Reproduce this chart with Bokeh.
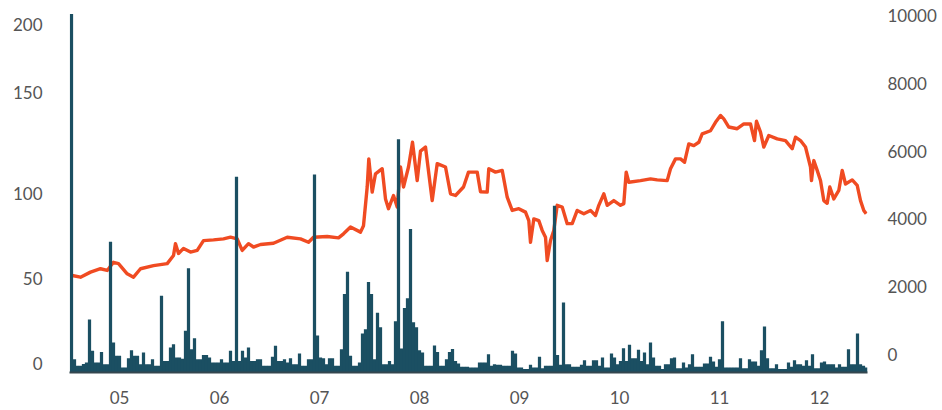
from bokeh.plotting import figure
from bokeh.models import Range1d, LinearAxis, FixedTicker
from bokeh.embed import file_html
from bokeh.resources import INLINE

# ---- data ----
YEAR_TICKS = [2005, 2006, 2007, 2008, 2009, 2010, 2011, 2012]
YEAR_LABELS = ["05", "06", "07", "08", "09", "10", "11", "12"]

# left axis (volume) tick labels and where they sit
LEFT_TICK_LABELS = ["0", "50", "100", "150", "200"]
LEFT_TICK_POS = [5.3, 55, 105, 164, 204]
RIGHT_TICKS = [0, 2000, 4000, 6000, 8000, 10000]

# price line (right axis)
LINE_YEAR = [2004.527, 2004.61, 2004.71, 2004.81, 2004.877, 2004.94, 2004.99, 2005.077, 2005.14, 2005.21,
             2005.34, 2005.477, 2005.54, 2005.56, 2005.59, 2005.64, 2005.71, 2005.777, 2005.84, 2005.94,
             2006.04, 2006.11, 2006.177, 2006.227, 2006.29, 2006.34, 2006.41, 2006.54, 2006.677, 2006.81,
             2006.89, 2006.94, 2007.077, 2007.19, 2007.24, 2007.31, 2007.41, 2007.44, 2007.477, 2007.493,
             2007.527, 2007.56, 2007.627, 2007.66, 2007.69, 2007.74, 2007.777, 2007.81, 2007.84, 2007.89,
             2007.93, 2007.977, 2008.01, 2008.06, 2008.127, 2008.177, 2008.26, 2008.31, 2008.36, 2008.44,
             2008.49, 2008.577, 2008.61, 2008.677, 2008.693, 2008.76, 2008.827, 2008.877, 2008.927, 2008.993,
             2009.06, 2009.093, 2009.11, 2009.143, 2009.193, 2009.227, 2009.26, 2009.277, 2009.31, 2009.343,
             2009.377, 2009.427, 2009.477, 2009.527, 2009.577, 2009.643, 2009.71, 2009.76, 2009.793, 2009.843,
             2009.877, 2009.943, 2010.01, 2010.043, 2010.067, 2010.093, 2010.21, 2010.31, 2010.377, 2010.477,
             2010.51, 2010.56, 2010.61, 2010.65, 2010.693, 2010.743, 2010.793, 2010.827, 2010.91, 2010.96,
             2011.01, 2011.043, 2011.093, 2011.177, 2011.243, 2011.31, 2011.35, 2011.37, 2011.41, 2011.443,
             2011.493, 2011.577, 2011.66, 2011.727, 2011.76, 2011.81, 2011.86, 2011.91, 2011.92, 2011.943,
             2011.977, 2012.01, 2012.043, 2012.077, 2012.103, 2012.143, 2012.193, 2012.227, 2012.26, 2012.327,
             2012.377, 2012.41, 2012.443, 2012.467]
LINE_VALUE = [2330, 2280, 2430, 2530, 2480, 2720, 2680, 2380, 2280, 2530,
              2620, 2680, 2920, 3270, 2980, 3130, 3020, 3070, 3360, 3380,
              3410, 3460, 3410, 3070, 3270, 3170, 3245, 3280, 3460, 3410,
              3310, 3460, 3480, 3440, 3560, 3760, 3610, 3800, 4940, 5770,
              4790, 5330, 5480, 4590, 4300, 4690, 4350, 5530, 4940, 5530,
              6260, 5130, 6000, 6120, 4540, 5630, 5530, 4740, 4690, 4940,
              5380, 5380, 4800, 4790, 5480, 5380, 5430, 4640, 4250, 4300,
              4200, 3950, 3310, 4000, 3950, 3660, 3460, 2770, 3360, 3660,
              4400, 4350, 3860, 3860, 4250, 4150, 4250, 4100, 4400, 4740,
              4400, 4540, 4400, 4450, 5380, 5080, 5130, 5180, 5150, 5130,
              5480, 5770, 5770, 5670, 6210, 6160, 6260, 6510, 6600, 6850,
              7050, 6950, 6710, 6660, 6800, 6800, 6310, 6880, 6560, 6120,
              6460, 6360, 6310, 6070, 6410, 6310, 6120, 5530, 5130, 5720,
              5430, 5130, 4540, 4460, 4940, 4590, 4840, 5430, 5030, 5150,
              4990, 4540, 4250, 4150]

# volume bars (left axis), one bar every 0.03 year starting 2004.52
BAR_START = 2004.52
BAR_STEP = 0.03
BAR_VOLUME = [210, 7.8, 3.9, 3.9, 5, 5.8, 31, 12.7, 5.8, 5.8,
              12, 4.9, 4.9, 76.6, 17.5, 9.8, 9.8, 2.9, 2.9, 8.4,
              13, 9.8, 9.8, 4.9, 11.7, 4.9, 4.9, 7.8, 3.9, 3.9,
              45, 6.8, 6.8, 14.6, 16.6, 8.8, 8.8, 8, 24.4, 61,
              13.6, 20, 7.8, 7.8, 10.3, 10.3, 8.8, 5.8, 5.8, 5.8,
              7.8, 5.8, 5.8, 12.7, 6.8, 114.6, 6.8, 12.7, 8.8, 14.6,
              6.8, 6.8, 7.8, 7.8, 3.9, 3.9, 3.9, 9.2, 15.6, 6.8,
              6.8, 7.8, 5.8, 8.4, 4.9, 4.9, 11.1, 3.9, 3.9, 7.8,
              7.8, 116, 21.6, 8.8, 8.4, 4.9, 8.4, 8.4, 3.9, 3.9,
              13.6, 46, 59, 9.8, 3.9, 3.9, 5.8, 22.8, 25.4, 53,
              46, 7.8, 35, 26.5, 4.9, 4.9, 6.8, 4.9, 30, 136.6,
              14, 37.8, 43.5, 84, 29.4, 26.5, 13, 11.7, 3.9, 3.9,
              3.9, 15.8, 12, 3.9, 3.9, 7.8, 12, 13.8, 6.8, 5.3,
              3.3, 3.3, 3.3, 2.9, 2.9, 2.9, 5.8, 5.8, 5.8, 10.7,
              3.9, 4.9, 4.5, 4.5, 3.9, 3.9, 3.9, 12.7, 11.1, 2.9,
              2.9, 2, 2, 4.5, 2.9, 2.9, 9.2, 2.5, 3.9, 3.9,
              3.9, 97.7, 10.3, 4.5, 41, 4.9, 4.9, 3.3, 3.3, 3.3,
              4.5, 7.2, 3.9, 3.9, 7.2, 7.2, 3.9, 8.8, 2.9, 2.9,
              11.1, 8.8, 4.9, 6.8, 14.2, 6.8, 16.2, 8.4, 8.4, 13.3,
              6.8, 11.7, 4.9, 17.5, 8.8, 3.9, 3.9, 2, 4.9, 4.9,
              8.4, 8.8, 2.5, 2.5, 5.8, 2.9, 4.9, 10.7, 3.3, 3.3,
              3.3, 5.3, 5.3, 9.2, 6.4, 3.3, 7.8, 30, 2.9, 2.9,
              2.9, 2.9, 2.9, 8.4, 2.5, 2.5, 7.8, 6.4, 6.4, 3.9,
              13, 27, 8.4, 2.5, 2.5, 4.9, 2, 2, 2, 5.8,
              3.3, 7.2, 4.9, 4.9, 3.9, 7.2, 3.9, 10.7, 2.5, 2.5,
              5.8, 6.4, 4.9, 4.9, 4.9, 2.9, 4.9, 3.3, 3.3, 13.6,
              4.9, 4.9, 22.8, 4.9, 3.9, 2.9]
BAR_YEAR = [round(BAR_START + BAR_STEP * i, 3) for i in range(len(BAR_VOLUME))]

# ---- styling ----
BAR_COLOR = "#1b4f62"
LINE_COLOR = "#f04b22"
TEXT_COLOR = "#555555"
FONT = "Lato"
FONT_SIZE = "17px"

p = figure(width=942, height=410, output_backend="svg", toolbar_location=None,
           x_range=Range1d(2004.50, 2012.48), y_range=Range1d(0, 212),
           min_border_left=69, min_border_right=75, min_border_top=10, min_border_bottom=38)
p.extra_y_ranges = {"price": Range1d(-531, 10147)}

p.outline_line_color = None
p.xgrid.visible = False
p.ygrid.visible = False
p.background_fill_color = "white"
p.border_fill_color = "white"

# line first, bars on top
p.line(LINE_YEAR, LINE_VALUE, y_range_name="price", line_color=LINE_COLOR, line_width=3.4,
       line_join="round")
p.vbar(x=BAR_YEAR, top=BAR_VOLUME, bottom=0, width=BAR_STEP * 1.08,
       fill_color=BAR_COLOR, line_color=None)

# x axis
xa = p.xaxis[0]
xa.ticker = FixedTicker(ticks=YEAR_TICKS)
xa.major_label_overrides = {t: l for t, l in zip(YEAR_TICKS, YEAR_LABELS)}
xa.axis_line_color = "#34474f"
xa.axis_line_width = 2
xa.major_tick_line_color = None
xa.minor_tick_line_color = None
xa.major_tick_out = 0
xa.major_tick_in = 0
xa.major_label_standoff = 18
xa.major_label_text_font = FONT
xa.major_label_text_font_size = FONT_SIZE
xa.major_label_text_color = TEXT_COLOR

# left axis
ya = p.yaxis[0]
ya.ticker = FixedTicker(ticks=LEFT_TICK_POS)
ya.major_label_overrides = {t: l for t, l in zip(LEFT_TICK_POS, LEFT_TICK_LABELS)}
ya.axis_line_color = None
ya.major_tick_line_color = None
ya.minor_tick_line_color = None
ya.major_tick_out = 0
ya.major_tick_in = 0
ya.major_label_standoff = 27
ya.major_label_text_font = FONT
ya.major_label_text_font_size = FONT_SIZE
ya.major_label_text_color = TEXT_COLOR

# right axis
ra = LinearAxis(y_range_name="price", ticker=FixedTicker(ticks=RIGHT_TICKS))
ra.axis_line_color = None
ra.major_tick_line_color = None
ra.minor_tick_line_color = None
ra.major_tick_out = 0
ra.major_tick_in = 0
ra.major_label_standoff = 20
ra.major_label_text_font = FONT
ra.major_label_text_font_size = FONT_SIZE
ra.major_label_text_color = TEXT_COLOR
p.add_layout(ra, "right")

open("out.html", "w").write(file_html(p, INLINE))
